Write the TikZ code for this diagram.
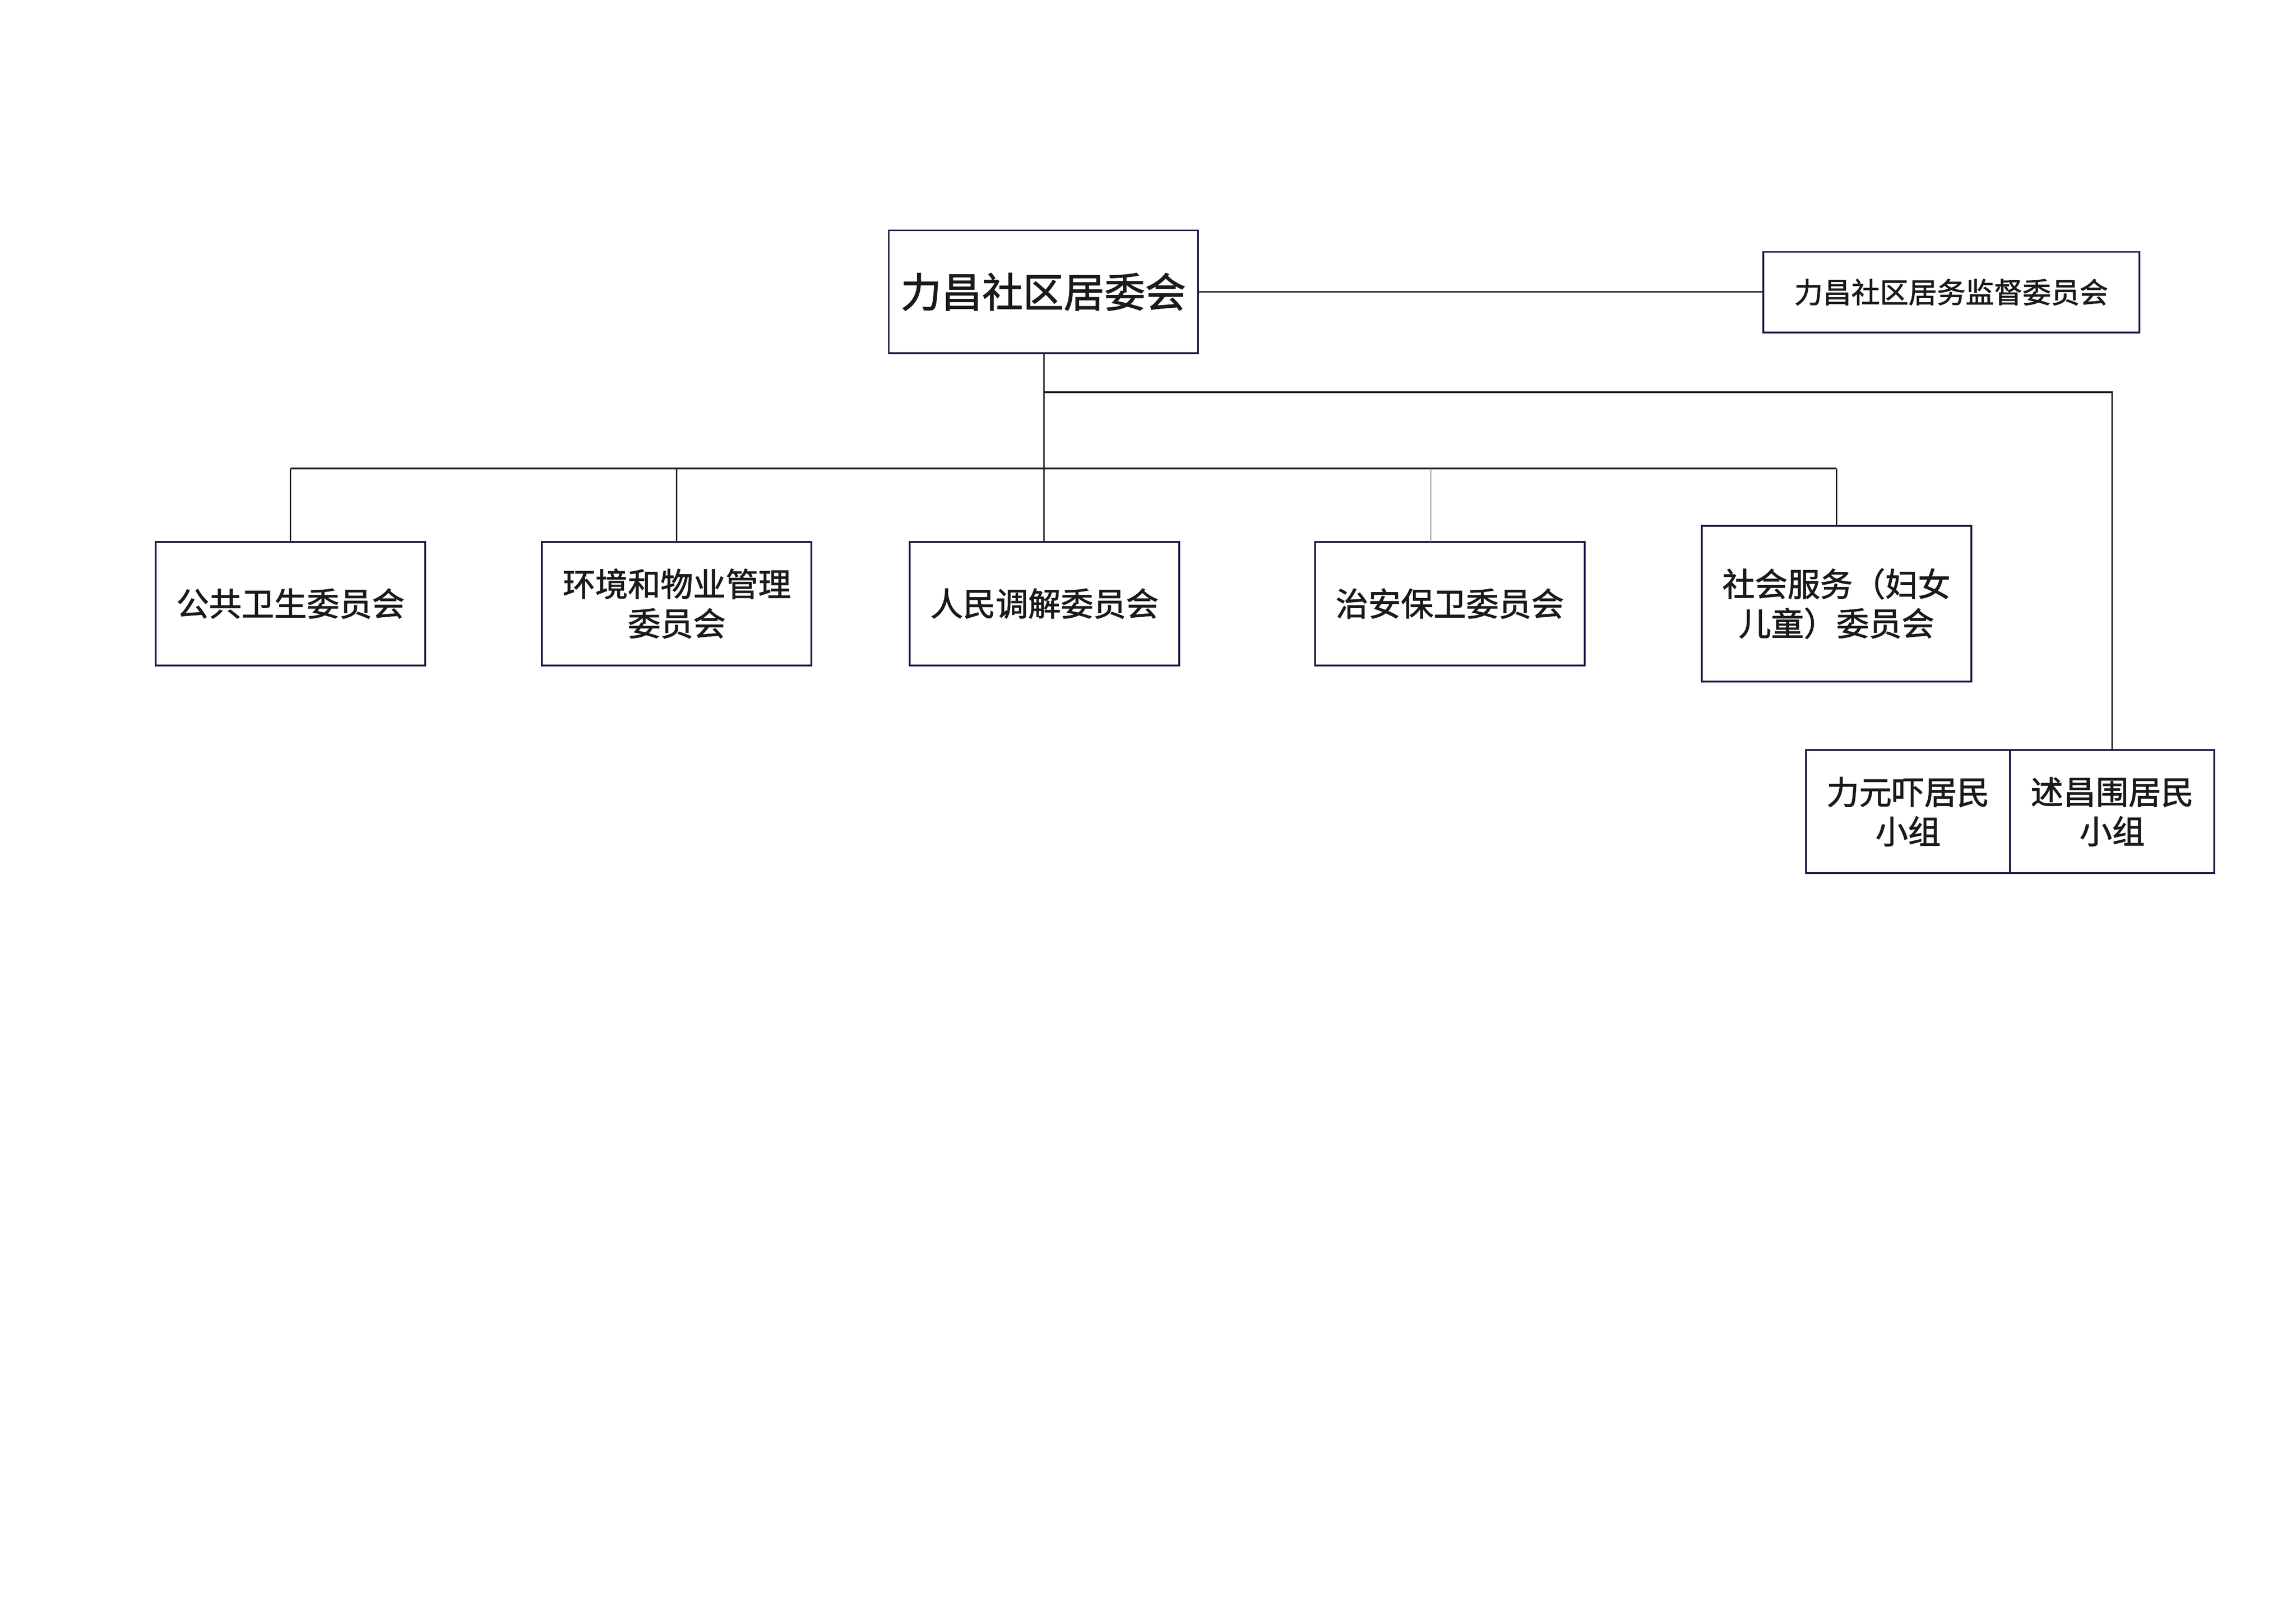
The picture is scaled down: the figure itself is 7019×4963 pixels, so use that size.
\documentclass[tikz,border=0pt]{standalone}
\usepackage{fontspec}
\setmainfont{Noto Sans CJK SC}[FakeBold=1.6]
\newlength\pxu
\setlength\pxu{0.0423333mm}
\definecolor{boxnavy}{RGB}{24,26,72}
\definecolor{txt}{RGB}{26,26,26}
\definecolor{lnk}{RGB}{30,30,30}
\tikzset{
  org/.style={draw=boxnavy, line width=5.5\pxu, fill=white, inner sep=0pt, align=center,
              text=txt, font=\fontsize{12pt}{14.5pt}\selectfont},
  link/.style={draw=lnk, line width=4.5\pxu},
  thinlink/.style={draw=black!45, line width=3\pxu}
}
\begin{document}
\begin{tikzpicture}[x=\pxu, y=-\pxu]
\useasboundingbox (0,0) rectangle (7019,4963);
% nodes
\node[org, minimum width=945\pxu, minimum height=376\pxu, font=\fontsize{15pt}{18pt}\selectfont] (main) at (3189.5,892) {力昌社区居委会};
\node[org, minimum width=1150\pxu, minimum height=246\pxu, font=\fontsize{10.5pt}{13pt}\selectfont] (sup) at (5965,893) {力昌社区居务监督委员会};
\node[org, minimum width=824\pxu, minimum height=377\pxu] (gw) at (888,1845) {公共卫生委员会};
\node[org, minimum width=824\pxu, minimum height=377\pxu] (hj) at (2069,1845) {环境和物业管理\\委员会};
\node[org, minimum width=824\pxu, minimum height=377\pxu] (rm) at (3193,1845) {人民调解委员会};
\node[org, minimum width=824\pxu, minimum height=377\pxu] (za) at (4432,1845) {治安保卫委员会};
\node[org, minimum width=824\pxu, minimum height=476\pxu] (sh) at (5614,1845) {社会服务（妇女\\儿童）委员会};
\node[org, minimum width=624\pxu, minimum height=376\pxu] (r1) at (5833,2481) {力元吓居民\\小组};
\node[org, minimum width=624\pxu, minimum height=376\pxu] (r2) at (6457,2481) {述昌围居民\\小组};
% coordinates
\coordinate (busL) at (888,1432);
\coordinate (busR) at (5614,1432);
\coordinate (mainB) at (3192,1080);
\coordinate (busZ) at (4374,1432);
\coordinate (zaTop) at (4374,1656);
\coordinate (brL) at (3192,1199);
\coordinate (brR) at (6457,1199);
% connectors
\draw[link] (main.east) -- (main.east -| sup.west);
\draw[link] (mainB) -- (mainB |- rm.north);
\draw[link] (busL) -- (busR);
\draw[link] (brL) -- (brR) -- (r2.north);
\draw[link] (busL) -- (gw.north);
\draw[link] (hj.north |- busL) -- (hj.north);
\draw[link] (busR) -- (sh.north);
\draw[thinlink] (busZ) -- (zaTop);
\end{tikzpicture}
\end{document}
